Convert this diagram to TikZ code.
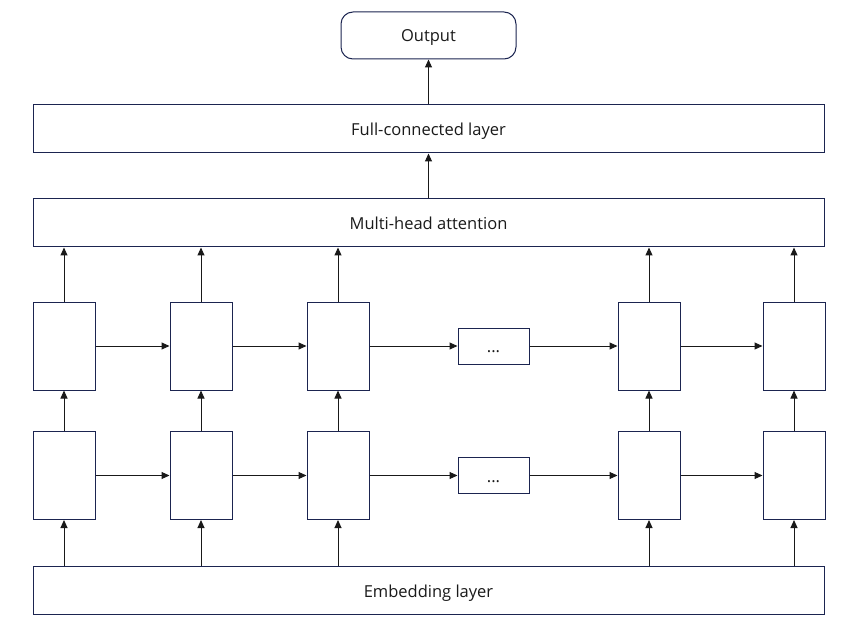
\documentclass[tikz,border=0pt]{standalone}
\usepackage{fontspec}
\setmainfont{Open Sans}
\usetikzlibrary{arrows.meta}
\definecolor{navy}{HTML}{1B2450}
\definecolor{txt}{HTML}{1A1A1A}
\tikzset{
  box/.style={draw=navy, line width=1pt, fill=white, inner sep=0pt, font=\fontsize{16.5}{19}\selectfont, text=txt, text height=13pt, text depth=0pt},
  cell/.style={box, minimum width=62pt, minimum height=88pt},
  dots/.style={box, minimum width=71pt, minimum height=36pt},
  wide/.style={box, minimum width=791pt, minimum height=48pt},
  arr/.style={draw=black!90, line width=1pt, -{Triangle[length=8pt,width=7pt]}},
}
\begin{document}
\begin{tikzpicture}[x=1pt,y=-1pt]
\useasboundingbox (0,0) rectangle (867,644);
\node[box, rounded corners=12pt, minimum width=175pt, minimum height=47pt] (out) at (428.5,35.5) {Output};
\node[wide] (fc) at (428.5,129) {Full-connected layer};
\node[wide] (mh) at (428.5,223) {Multi-head attention};
\node[wide] (emb) at (428.5,590.5) {Embedding layer};
% upper row
\node[cell] (u1) at (64,346) {};
\node[cell] (u2) at (201,346) {};
\node[cell] (u3) at (338,346) {};
\node[dots] (ud) at (493.5,346) {...};
\node[cell] (u5) at (649,346) {};
\node[cell] (u6) at (794,346) {};
% lower row
\node[cell] (l1) at (64,475.5) {};
\node[cell] (l2) at (201,475.5) {};
\node[cell] (l3) at (338,475.5) {};
\node[dots] (ld) at (493.5,475.5) {...};
\node[cell] (l5) at (649,475.5) {};
\node[cell] (l6) at (794,475.5) {};
% arrows
\draw[arr] (fc) -- (out);
\draw[arr] (mh) -- (fc);
\foreach \i in {1,2,3,5,6} {
  \draw[arr] (u\i.north) -- (u\i.north |- mh.south);
  \draw[arr] (l\i.north) -- (u\i.south);
  \draw[arr] (l\i.south |- emb.north) -- (l\i.south);
}
\draw[arr] (u1) -- (u2);
\draw[arr] (u2) -- (u3);
\draw[arr] (u3) -- (ud);
\draw[arr] (ud) -- (u5);
\draw[arr] (u5) -- (u6);
\draw[arr] (l1) -- (l2);
\draw[arr] (l2) -- (l3);
\draw[arr] (l3) -- (ld);
\draw[arr] (ld) -- (l5);
\draw[arr] (l5) -- (l6);
\end{tikzpicture}
\end{document}
